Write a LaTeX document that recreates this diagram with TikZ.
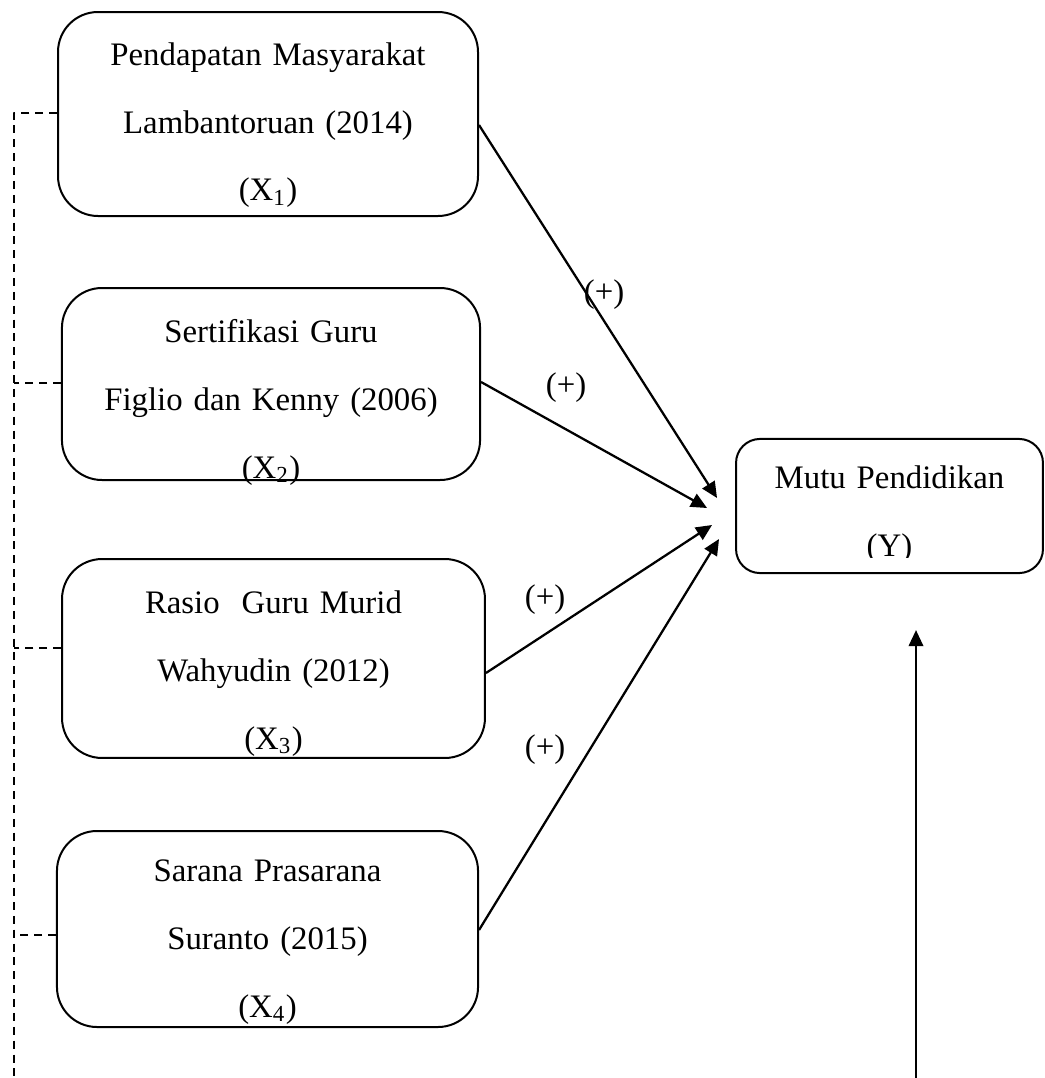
\documentclass[tikz,border=0pt]{standalone}
\usepackage{fontspec}
\setmainfont{Liberation Serif}
\usetikzlibrary{arrows.meta,calc}

\begin{document}
\begin{tikzpicture}[x=0.375pt, y=-0.375pt, >={Triangle[length=6pt,width=5.4pt]}, line join=round, font=\fontsize{12.3}{25.5}\selectfont,
	kotak/.style={draw, line width=0.75pt, rounded corners=15pt, inner sep=0pt},
	isi/.style={text width=170pt, align=center, anchor=base, inner sep=0pt},
	panah/.style={->, line width=0.85pt},
	putus/.style={line width=0.7pt, dash pattern=on 3pt off 2.2pt}]
	\useasboundingbox (0,0) rectangle (1044,1078);
	
	% 1. Kotak variabel bebas
	\node[kotak, minimum width=157.5pt, minimum height=76.5pt] (x1) at (268,114) {};
	\node[kotak, minimum width=156.8pt, minimum height=72pt] (x2) at (271,384) {};
	\node[kotak, minimum width=158.6pt, minimum height=74.6pt] (x3) at (273.5,658.5) {};
	\node[kotak, minimum width=157.9pt, minimum height=73.5pt] (x4) at (267.5,929) {};
	
	\node[isi] (x1t) at ($(x1.north)+(0,54)$) {Pendapatan Masyarakat\\Lambantoruan (2014)\\(X\textsubscript{1})};
	\node[isi] (x2t) at ($(x2.north)+(0,55)$) {Sertifikasi Guru\\Figlio dan Kenny (2006)\\(X\textsubscript{2})};
	\node[isi] (x3t) at ($(x3.north)+(0,55)$) {Rasio~ Guru Murid\\Wahyudin (2012)\\(X\textsubscript{3})};
	\node[isi] (x4t) at ($(x4.north)+(0,51)$) {Sarana Prasarana\\Suranto (2015)\\(X\textsubscript{4})};
	
	% 2. Kotak variabel terikat
	\node[kotak, rounded corners=9pt, minimum width=115.1pt, minimum height=50.3pt] (y) at (889.5,506) {};
	\begin{scope}
		\clip (y.north west) rectangle ($(y.south east)+(0,-17)$);
		\node[isi] (yt) at ($(y.north)+(0,51)$) {Mutu Pendidikan\\(Y)};
	\end{scope}
	
	% 3. Panah pengaruh
	\coordinate (t1) at ($(y.west)+(-18,-8)$);
	\coordinate (t2) at ($(y.west)+(-28,2)$);
	\coordinate (t3) at ($(y.west)+(-23,19)$);
	\coordinate (t4) at ($(y.west)+(-16,33)$);
	\draw[panah] ($(x1.east)+(0,11)$) -- (t1);
	\draw[panah] ($(x2.east)+(0,-2)$) -- (t2);
	\draw[panah] ($(x3.east)+(0,14.5)$) -- (t3);
	\draw[panah] ($(x4.east)+(0,1)$) -- (t4);
	
	\node (s1) at (604,295) {(+)};
	\node (s2) at (566,388) {(+)};
	\node (s3) at (545,600) {(+)};
	\node (s4) at (545,750) {(+)};
	
	% 4. Panah dari bawah
	\coordinate (ybawah) at (916,1078);
	\coordinate (ymasuk) at ($(y.south)+(26.5,56)$);
	\draw[panah] (ybawah) -- (ymasuk);
	
	% 5. Garis putus-putus
	\coordinate (dkiri) at (14,0);
	\coordinate (dbawah) at (14,1078);
	\coordinate (d1) at ($(x1.west)+(0,-1)$);
	\draw[putus] (d1) -- (d1 -| dkiri) -- (dbawah);
	\foreach \k/\dy in {x2/-1,x3/-10.5,x4/6} {
		\draw[putus] ($(\k.west)+(0,\dy)$) -- ($(\k.west -| dkiri)+(0,\dy)$);
	}
\end{tikzpicture}
\end{document}
